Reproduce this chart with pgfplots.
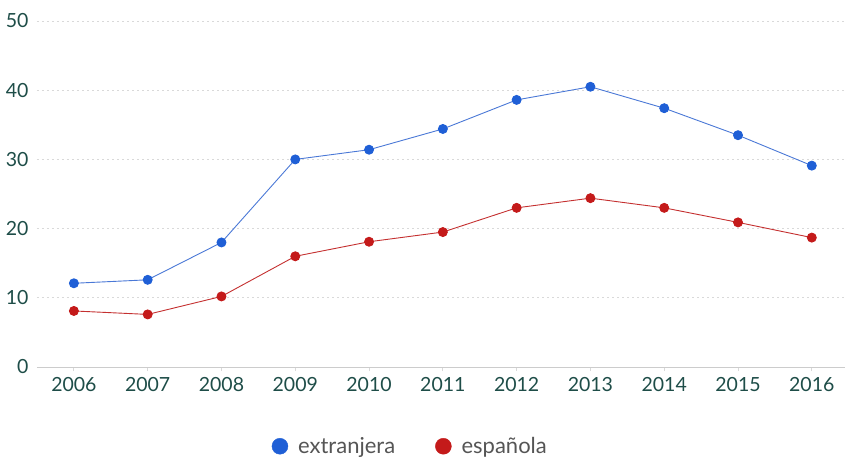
\documentclass[border=0pt]{standalone}
\usepackage{pgfplots}
\pgfplotsset{compat=1.18}
\usepackage{fontspec}
\setmainfont{Lato}
\definecolor{tickc}{HTML}{1E4D48}
\definecolor{bluem}{HTML}{1F5FD6}
\definecolor{bluel}{HTML}{4A78D6}
\definecolor{redm}{HTML}{C41A1A}
\definecolor{redl}{HTML}{C43030}
\definecolor{legc}{HTML}{555555}
\begin{document}
\begin{tikzpicture}
\useasboundingbox (0pt,0pt) rectangle (845pt,459pt);
\begin{axis}[
  at={(37pt,92pt)}, anchor=south west,
  width=808pt, height=346pt, scale only axis,
  xmin=-0.5, xmax=10.45, ymin=0, ymax=50,
  xtick={0,...,10},
  xticklabels={2006,2007,2008,2009,2010,2011,2012,2013,2014,2015,2016},
  ytick={0,10,20,30,40,50},
  axis x line*=bottom, axis y line*=left,
  x axis line style={draw=black!20, line width=0.8pt},
  y axis line style={draw=none},
  ytick style={draw=none},
  xtick style={draw=black!15, line width=0.8pt},
  tick align=outside, major tick length=4pt,
  ymajorgrids, grid style={draw=black!15, line width=0.7pt, dash pattern=on 2pt off 3pt},
  tick label style={font=\fontsize{19.5}{22}\selectfont, text=tickc},
  /pgf/number format/assume math mode=true,
  /pgf/number format/1000 sep={},
  yticklabel style={xshift=-1pt},
  xticklabel style={yshift=-3pt},
  clip=false,
  legend style={at={(0.462,-0.229)}, anchor=center, draw=none, fill=none,
    legend columns=2, font=\fontsize{22}{24}\selectfont, text=legc,
    /tikz/every even column/.append style={column sep=38pt}},
  legend cell align=left,
]
\addlegendimage{legend image code/.code={\fill[bluem] (0pt,0pt) circle (8pt); \path (-8pt,0pt) (16pt,0pt);}}
\addlegendentry{extranjera}
\addlegendimage{legend image code/.code={\fill[redm] (0pt,0pt) circle (8pt); \path (-8pt,0pt) (16pt,0pt);}}
\addlegendentry{española}
\addplot[forget plot, bluel, line width=0.9pt, mark=*, mark size=4.5pt, mark options={fill=bluem, draw=bluem}] coordinates {
(0,12.1) (1,12.6) (2,18.0) (3,30.0) (4,31.4) (5,34.4) (6,38.6) (7,40.5) (8,37.4) (9,33.5) (10,29.1)};
\addplot[forget plot, redl, line width=0.9pt, mark=*, mark size=4.5pt, mark options={fill=redm, draw=redm}] coordinates {
(0,8.1) (1,7.6) (2,10.2) (3,16.0) (4,18.1) (5,19.5) (6,23.0) (7,24.4) (8,23.0) (9,20.9) (10,18.7)};
\end{axis}
\end{tikzpicture}
\end{document}
